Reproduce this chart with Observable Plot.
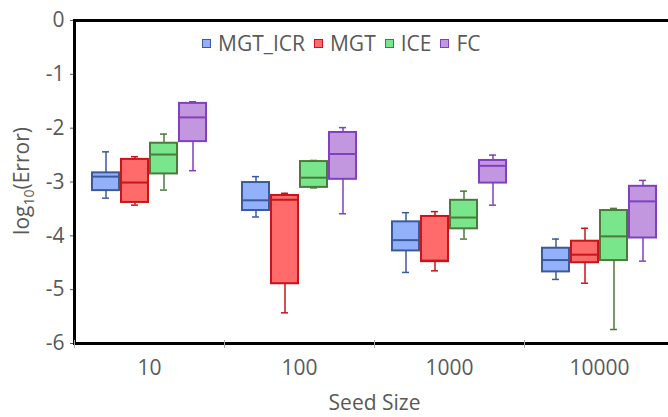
<!DOCTYPE html>
<html><head><meta charset="utf-8">
<script src="https://cdn.jsdelivr.net/npm/d3@7"></script>
<script src="https://cdn.jsdelivr.net/npm/@observablehq/plot@0.6"></script>
<style>
body{margin:0;background:#fff;}
#wrap{position:relative;width:668px;height:417px;overflow:hidden;background:#fff;}
#legend{position:absolute;top:31px;left:202px;display:flex;align-items:center;font-family:"Open Sans";font-size:21px;color:#595959;line-height:24px;white-space:nowrap;}
.item{display:flex;align-items:center;margin-right:9px;}
.sw{width:7px;height:7px;border:1.5px solid;margin-right:7px;}
</style></head><body><div id="wrap"></div>
<script>
// categories
const seeds = ["10", "100", "1000", "10000"];
const methods = ["MGT_ICR", "MGT", "ICE", "FC"];
const fills = ["#93b1fb", "#ff6b6b", "#79e68c", "#c396e0"];
const strokes = ["#3b5a9a", "#c8141a", "#4b7a3c", "#8040c0"];
// rows = seed size, columns = method (MGT_ICR, MGT, ICE, FC); values are log10(Error)
const whiskerLow = [
  [-3.30, -3.43, -3.15, -2.79],
  [-3.65, -5.43, -3.11, -3.59],
  [-4.68, -4.65, -4.06, -3.43],
  [-4.81, -4.88, -5.74, -4.47]
];
const quartile1 = [
  [-3.16, -3.38, -2.85, -2.25],
  [-3.53, -4.89, -3.10, -2.95],
  [-4.28, -4.48, -3.87, -3.02],
  [-4.67, -4.50, -4.46, -4.04]
];
const medians = [
  [-2.90, -3.01, -2.49, -1.80],
  [-3.34, -3.33, -2.92, -2.48],
  [-4.08, -4.46, -3.66, -2.70],
  [-4.45, -4.35, -4.01, -3.36]
];
const quartile3 = [
  [-2.83, -2.58, -2.28, -1.54],
  [-3.01, -3.25, -2.62, -2.08],
  [-3.74, -3.64, -3.34, -2.60],
  [-4.23, -4.10, -3.53, -3.08]
];
const whiskerHigh = [
  [-2.44, -2.53, -2.11, -1.51],
  [-2.90, -3.21, -2.60, -1.99],
  [-3.57, -3.55, -3.17, -2.50],
  [-4.06, -3.86, -3.49, -2.97]
];
const yTicks = [-6, -5, -4, -3, -2, -1, 0];

const rows = [];
seeds.forEach((s, i) => methods.forEach((m, j) => rows.push({
  seed: s, method: m,
  lo: whiskerLow[i][j], q1: quartile1[i][j], med: medians[i][j], q3: quartile3[i][j], hi: whiskerHigh[i][j],
  fillC: fills[j], strokeC: strokes[j]
})));

const chart = Plot.plot({
  width: 668, height: 417,
  marginLeft: 73, marginRight: -7, marginTop: 20, marginBottom: 74,
  style: {fontFamily: "Open Sans", fontSize: "21px", color: "#595959", background: "white", overflow: "visible"},
  fx: {domain: seeds, padding: 0, tickSize: 0, tickPadding: 17, label: "Seed Size", labelAnchor: "center", labelOffset: 66},
  x: {domain: methods, paddingInner: 0.067, paddingOuter: 0.54, axis: null},
  y: {domain: [-6, 0], ticks: yTicks, tickFormat: d => String(d), tickSize: 4, tickPadding: 6, label: null},
  marks: [
    Plot.ruleX(rows, {fx: "seed", x: "method", y1: "lo", y2: "q1", stroke: "strokeC", strokeWidth: 1.5}),
    Plot.ruleX(rows, {fx: "seed", x: "method", y1: "q3", y2: "hi", stroke: "strokeC", strokeWidth: 1.5}),
    Plot.tickY(rows, {fx: "seed", x: "method", y: "lo", stroke: "strokeC", strokeWidth: 1.5, insetLeft: 10, insetRight: 10}),
    Plot.tickY(rows, {fx: "seed", x: "method", y: "hi", stroke: "strokeC", strokeWidth: 1.5, insetLeft: 10, insetRight: 10}),
    Plot.barY(rows, {fx: "seed", x: "method", y1: "q1", y2: "q3", fill: "fillC", stroke: "strokeC", strokeWidth: 2}),
    Plot.tickY(rows, {fx: "seed", x: "method", y: "med", stroke: "strokeC", strokeWidth: 2}),
    Plot.frame({anchor: "top", stroke: "#000", strokeWidth: 3}),
    Plot.frame({anchor: "bottom", stroke: "#000", strokeWidth: 3}),
    Plot.frame({anchor: "left", facetAnchor: "left", stroke: "#000", strokeWidth: 3}),
    Plot.frame({anchor: "left", insetTop: 320, insetBottom: -4, stroke: "#aaa", strokeWidth: 1})
  ]
});

const wrap = document.getElementById("wrap");
wrap.appendChild(chart);

// y-axis title with subscript
const yl = d3.select(chart).append("text")
  .attr("transform", "translate(22,181) rotate(-90)")
  .attr("text-anchor", "middle")
  .attr("dy", "0.35em")
  .attr("fill", "#595959")
  .attr("font-family", "Open Sans")
  .attr("font-size", 21);
yl.append("tspan").text("log");
yl.append("tspan").attr("font-size", 14).attr("dy", 5).text("10");
yl.append("tspan").attr("dy", -5).text("(Error)");

// legend
const legend = document.createElement("div");
legend.id = "legend";
methods.forEach((m, j) => {
  const it = document.createElement("div");
  it.className = "item";
  const sw = document.createElement("span");
  sw.className = "sw";
  sw.style.background = fills[j];
  sw.style.borderColor = strokes[j];
  const t = document.createElement("span");
  t.textContent = m;
  it.appendChild(sw); it.appendChild(t);
  legend.appendChild(it);
});
wrap.appendChild(legend);
</script>
</body></html>
